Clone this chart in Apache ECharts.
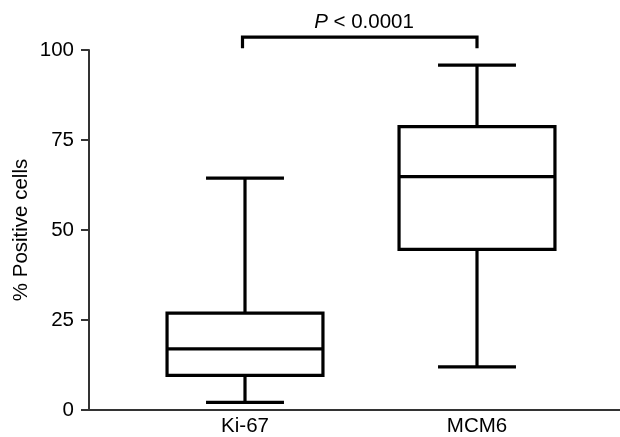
<!DOCTYPE html>
<html>
<head>
<meta charset="utf-8">
<script src="https://cdn.jsdelivr.net/npm/echarts@6/dist/echarts.min.js"></script>
<style>
html,body{margin:0;padding:0;background:#fff;}
#chart{width:620px;height:437px;}
</style>
</head>
<body>
<div id="chart"></div>
<script>
// ---- data ----
const categories = ['Ki-67', 'MCM6'];
const whiskerMin = [2.1, 12.0];
const quartile1 = [9.6, 44.6];
const medians = [17.0, 64.8];
const quartile3 = [26.9, 78.7];
const whiskerMax = [64.4, 95.8];
const yTicks = [0, 25, 50, 75, 100];
const comparison = { from: 0, to: 1, top: 103.6, end: 100.5, label: 'P < 0.0001' };
const yAxisTitle = '% Positive cells';

// ---- chart ----
const FONT = '"Liberation Sans", Arial, Helvetica, sans-serif';
const FS = 20.5;
const chart = echarts.init(document.getElementById('chart'));

const boxData = categories.map((c, i) => [i, whiskerMin[i], quartile1[i], medians[i], quartile3[i], whiskerMax[i]]);

function renderBox(params, api) {
  const x = api.value(0);
  const lo = api.coord([x, api.value(1)]);
  const q1 = api.coord([x, api.value(2)]);
  const md = api.coord([x, api.value(3)]);
  const q3 = api.coord([x, api.value(4)]);
  const hi = api.coord([x, api.value(5)]);
  const band = api.size([1, 0])[0];
  const bw = band * 0.672;
  const cw = bw / 2;
  const cx = lo[0];
  const st = { stroke: '#000', lineWidth: 3.2, fill: null };
  return {
    type: 'group',
    children: [
      { type: 'line', shape: { x1: cx, y1: q3[1], x2: cx, y2: hi[1] }, style: st },
      { type: 'line', shape: { x1: cx, y1: q1[1], x2: cx, y2: lo[1] }, style: st },
      { type: 'line', shape: { x1: cx - cw / 2, y1: hi[1], x2: cx + cw / 2, y2: hi[1] }, style: st },
      { type: 'line', shape: { x1: cx - cw / 2, y1: lo[1], x2: cx + cw / 2, y2: lo[1] }, style: st },
      { type: 'rect', shape: { x: cx - bw / 2, y: q3[1], width: bw, height: q1[1] - q3[1] }, style: { stroke: '#000', lineWidth: 3.2, fill: '#fff' } },
      { type: 'line', shape: { x1: cx - bw / 2, y1: md[1], x2: cx + bw / 2, y2: md[1] }, style: st }
    ]
  };
}

function renderBracket(params, api) {
  const a = api.coord([api.value(0), api.value(2)]);
  const b = api.coord([api.value(1), api.value(2)]);
  const ae = api.coord([api.value(0), api.value(3)]);
  const be = api.coord([api.value(1), api.value(3)]);
  const st = { stroke: '#000', lineWidth: 3.2, fill: null };
  return {
    type: 'group',
    children: [
      { type: 'polyline', shape: { points: [[ae[0] - 2.5, ae[1]], [a[0] - 2.5, a[1]], [b[0], b[1]], [be[0], be[1]]] }, style: st },
      {
        type: 'text',
        style: {
          x: (a[0] + b[0]) / 2 + 3,
          y: a[1] - 4,
          text: '{i|P} < 0.0001',
          rich: { i: { fontStyle: 'italic', fontSize: FS, fontFamily: FONT, fill: '#000' } },
          fontSize: FS,
          fontFamily: FONT,
          fill: '#000',
          align: 'center',
          verticalAlign: 'bottom'
        }
      }
    ]
  };
}

const option = {
  backgroundColor: '#fff',
  animation: false,
  grid: [
    { left: 89, right: 0, top: 50, bottom: 27, containLabel: false },
    { left: 129, right: 27, top: 50, bottom: 27, containLabel: false }
  ],
  xAxis: [
    {
      gridIndex: 0, type: 'value', min: 0, max: 1,
      axisLine: { show: true, lineStyle: { color: '#333', width: 2 } },
      axisTick: { show: false }, axisLabel: { show: false }, splitLine: { show: false }
    },
    {
      gridIndex: 1, type: 'category', data: categories,
      axisLine: { show: false }, axisTick: { show: false }, splitLine: { show: false },
      axisLabel: { fontSize: FS, fontFamily: FONT, color: '#000', margin: 6 }
    }
  ],
  yAxis: [
    {
      gridIndex: 0, type: 'value', min: 0, max: 100, interval: 25,
      name: yAxisTitle, nameLocation: 'middle', nameGap: 57, nameMoveOverlap: false,
      nameTextStyle: { fontSize: FS, fontFamily: FONT, color: '#000' },
      axisLine: { show: true, lineStyle: { color: '#333', width: 2 } },
      axisTick: { show: true, length: 8, lineStyle: { color: '#333', width: 2 } },
      axisLabel: { fontSize: FS, fontFamily: FONT, color: '#000', margin: 15 },
      splitLine: { show: false }
    },
    {
      gridIndex: 1, type: 'value', min: 0, max: 100, interval: 25, show: false
    }
  ],
  series: [
    {
      type: 'custom', name: 'box', xAxisIndex: 1, yAxisIndex: 1,
      renderItem: renderBox, data: boxData, encode: { x: 0, y: [1, 2, 3, 4, 5] }, clip: false
    },
    {
      type: 'custom', name: 'bracket', xAxisIndex: 1, yAxisIndex: 1,
      renderItem: renderBracket,
      data: [[comparison.from, comparison.to, comparison.top, comparison.end]],
      encode: { x: [0, 1], y: [2, 3] }, clip: false
    }
  ]
};
chart.setOption(option);
</script>
</body>
</html>
